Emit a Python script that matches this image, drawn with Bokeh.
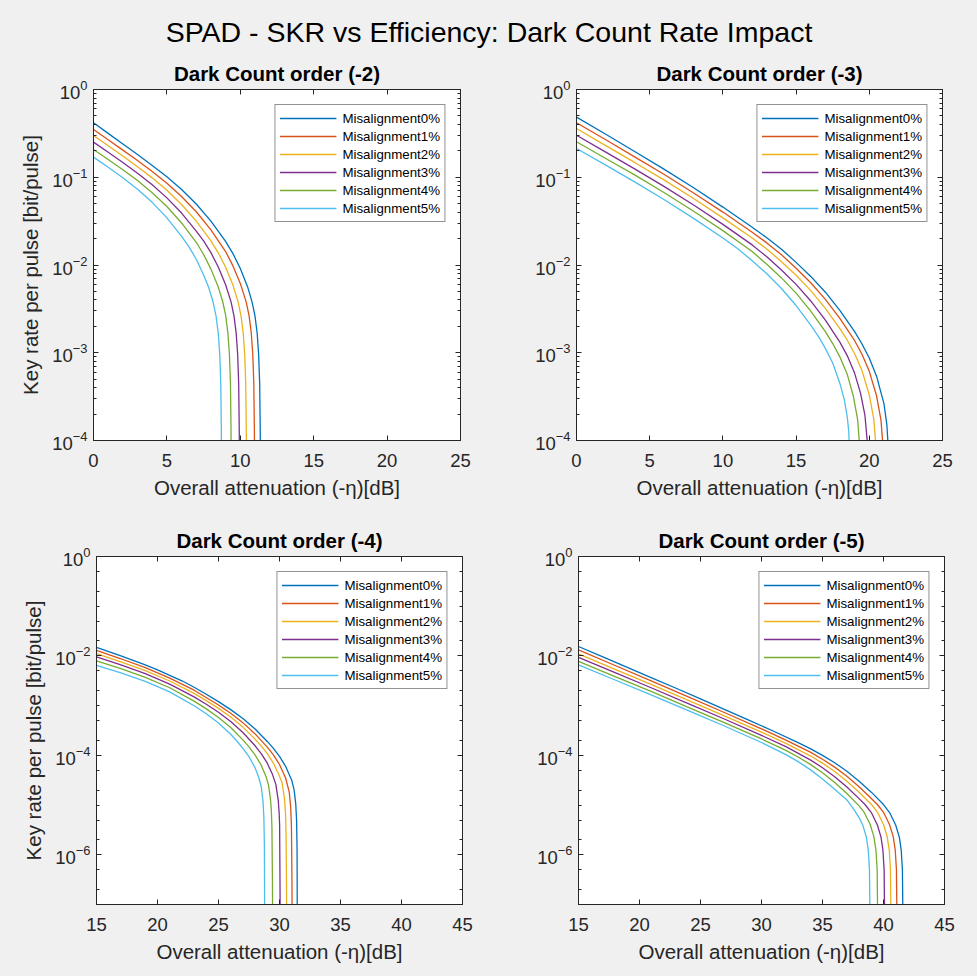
from bokeh.plotting import figure
from bokeh.models import (LinearAxis, LogAxis, FixedTicker, Legend, LegendItem, Label,
                          Range1d, CustomJSTickFormatter)
from bokeh.layouts import column, row
from bokeh.embed import file_html
from bokeh.resources import INLINE

# ---------------- texts / categories ----------------
SUPTITLE = "SPAD - SKR vs Efficiency: Dark Count Rate Impact"
PANEL_TITLES = ["Dark Count order (-2)", "Dark Count order (-3)",
                "Dark Count order (-4)", "Dark Count order (-5)"]
SERIES = ["Misalignment0%", "Misalignment1%", "Misalignment2%",
          "Misalignment3%", "Misalignment4%", "Misalignment5%"]
COLORS = ["#0072BD", "#D95319", "#EDB120", "#7E2F8E", "#77AC30", "#4DBEEE"]
X_LABEL = "Overall attenuation (-\u03b7)[dB]"
Y_LABEL = "Key rate per pulse [bit/pulse]"

TOP_X_TICKS = [0, 5, 10, 15, 20, 25]
BOTTOM_X_TICKS = [15, 20, 25, 30, 35, 40, 45]
TOP_Y_TICKS = [1e-4, 1e-3, 1e-2, 1e-1, 1e0]
BOTTOM_Y_TICKS = [1e-6, 1e-4, 1e-2, 1e0]

# ---------------- data: attenuation [dB] and log10(key rate per pulse) ----------------
# Dark count order (-2)
tl_x0 = [0, 1, 2, 3, 4, 5, 6, 7, 8, 9, 9.5, 10, 10.5, 10.8, 11, 11.15, 11.25, 11.32, 11.36, 11.37]
tl_e0 = [-0.38, -0.50, -0.62, -0.74, -0.865, -0.995, -1.14, -1.305, -1.5, -1.73, -1.87, -2.04, -2.25, -2.42, -2.58, -2.78, -3.02, -3.35, -3.9, -4.5]
tl_x1 = [0, 1, 2, 3, 4, 5, 6, 7, 8, 9, 9.5, 10, 10.4, 10.6, 10.75, 10.85, 10.92, 10.96, 10.97]
tl_e1 = [-0.456, -0.573, -0.691, -0.81, -0.935, -1.068, -1.219, -1.393, -1.6, -1.847, -2.01, -2.21, -2.42, -2.58, -2.78, -3.02, -3.35, -3.9, -4.5]
tl_x2 = [0, 1, 2, 3, 4, 5, 6, 7, 8, 8.5, 9, 9.5, 9.85, 10.05, 10.2, 10.3, 10.37, 10.41, 10.42]
tl_e2 = [-0.524, -0.641, -0.758, -0.88, -1.007, -1.149, -1.31, -1.5, -1.725, -1.861, -2.026, -2.229, -2.42, -2.58, -2.78, -3.02, -3.35, -3.9, -4.5]
tl_x3 = [0, 1, 2, 3, 4, 5, 6, 7, 7.5, 8, 8.5, 9, 9.37, 9.57, 9.72, 9.82, 9.89, 9.93, 9.94]
tl_e3 = [-0.60, -0.715, -0.832, -0.955, -1.086, -1.235, -1.408, -1.613, -1.726, -1.859, -2.023, -2.225, -2.42, -2.58, -2.78, -3.02, -3.35, -3.9, -4.5]
tl_x4 = [0, 1, 2, 3, 4, 5, 6, 7, 7.5, 8, 8.5, 8.8, 9.0, 9.15, 9.26, 9.33, 9.37, 9.38]
tl_e4 = [-0.684, -0.797, -0.915, -1.038, -1.176, -1.333, -1.521, -1.741, -1.88, -2.047, -2.252, -2.416, -2.57, -2.77, -3.02, -3.35, -3.9, -4.5]
tl_x5 = [0, 1, 2, 3, 4, 5, 6, 6.5, 7, 7.5, 7.85, 8.15, 8.35, 8.5, 8.6, 8.67, 8.71, 8.72]
tl_e5 = [-0.771, -0.886, -1.006, -1.137, -1.286, -1.463, -1.673, -1.791, -1.935, -2.113, -2.257, -2.425, -2.583, -2.78, -3.02, -3.35, -3.9, -4.5]

# Dark count order (-3)
tr_x0 = [0, 2, 4, 6, 8, 10, 12, 13, 14, 15, 16, 17, 18, 19, 19.5, 20, 20.5, 21, 21.2, 21.3, 21.34]
tr_e0 = [-0.315, -0.51, -0.71, -0.91, -1.12, -1.34, -1.57, -1.69, -1.82, -1.97, -2.13, -2.31, -2.52, -2.76, -2.9, -3.06, -3.27, -3.58, -3.82, -4.1, -4.6]
tr_x1 = [0, 2, 4, 6, 8, 10, 12, 13, 14, 15, 16, 17, 18, 19, 19.5, 20, 20.5, 20.8, 20.9, 20.96, 20.98]
tr_e1 = [-0.379, -0.573, -0.77, -0.969, -1.179, -1.397, -1.626, -1.748, -1.884, -2.037, -2.202, -2.392, -2.61, -2.863, -3.017, -3.212, -3.493, -3.77, -3.99, -4.3, -4.6]
tr_x2 = [0, 2, 4, 6, 8, 10, 12, 13, 14, 15, 16, 17, 18, 18.5, 19, 19.5, 20, 20.3, 20.4, 20.48, 20.5]
tr_e2 = [-0.445, -0.639, -0.834, -1.033, -1.242, -1.463, -1.692, -1.817, -1.962, -2.117, -2.292, -2.494, -2.728, -2.857, -3.012, -3.203, -3.481, -3.75, -3.94, -4.3, -4.6]
tr_x3 = [0, 2, 4, 6, 8, 10, 12, 13, 14, 15, 16, 17, 18, 18.5, 19, 19.4, 19.7, 19.85, 19.92, 19.94]
tr_e3 = [-0.521, -0.714, -0.907, -1.107, -1.317, -1.537, -1.771, -1.906, -2.057, -2.221, -2.41, -2.628, -2.882, -3.035, -3.235, -3.46, -3.71, -3.99, -4.4, -4.6]
tr_x4 = [0, 2, 4, 6, 8, 10, 12, 13, 14, 15, 16, 17, 17.5, 18, 18.5, 18.9, 19.2, 19.3, 19.37, 19.39]
tr_e4 = [-0.595, -0.786, -0.976, -1.177, -1.388, -1.608, -1.847, -1.992, -2.147, -2.321, -2.526, -2.759, -2.895, -3.05, -3.249, -3.487, -3.76, -3.97, -4.4, -4.6]
tr_x5 = [0, 2, 4, 6, 8, 10, 11, 12, 13, 14, 15, 16, 16.5, 17, 17.5, 18, 18.3, 18.5, 18.6, 18.7, 18.72]
tr_e5 = [-0.673, -0.862, -1.055, -1.257, -1.469, -1.693, -1.813, -1.951, -2.10, -2.268, -2.462, -2.685, -2.808, -2.95, -3.116, -3.354, -3.54, -3.74, -3.9, -4.4, -4.6]

# Dark count order (-4)
bl_x0 = [15, 16, 17, 18, 19, 20, 21, 22, 23, 24, 25, 26, 27, 28, 29, 29.5, 30, 30.5, 31, 31.2, 31.33, 31.4, 31.44, 31.46]
bl_e0 = [-1.83, -1.915, -2.0, -2.09, -2.18, -2.28, -2.39, -2.5, -2.63, -2.77, -2.92, -3.08, -3.26, -3.47, -3.72, -3.86, -4.02, -4.22, -4.5, -4.7, -4.97, -5.3, -5.9, -7.5]
bl_x1 = [15, 17, 19, 21, 23, 25, 26, 27, 28, 29, 29.5, 30, 30.5, 30.8, 30.92, 30.98, 31.02, 31.04]
bl_e1 = [-1.89, -2.057, -2.236, -2.446, -2.689, -2.986, -3.153, -3.342, -3.569, -3.834, -3.991, -4.184, -4.455, -4.74, -5.05, -5.45, -6.5, -7.5]
bl_x2 = [15, 17, 19, 21, 23, 24, 25, 26, 27, 28, 28.5, 29, 29.5, 29.9, 30.2, 30.4, 30.5, 30.54, 30.57, 30.59]
bl_e2 = [-1.955, -2.119, -2.296, -2.504, -2.754, -2.9, -3.055, -3.229, -3.432, -3.674, -3.81, -3.966, -4.157, -4.359, -4.54, -4.85, -5.2, -5.6, -6.5, -7.5]
bl_x3 = [15, 17, 19, 21, 23, 24, 25, 26, 27, 28, 28.5, 29, 29.4, 29.7, 29.9, 29.97, 30.01, 30.04, 30.06]
bl_e3 = [-2.02, -2.182, -2.357, -2.566, -2.824, -2.972, -3.134, -3.317, -3.541, -3.808, -3.965, -4.157, -4.368, -4.584, -4.91, -5.15, -5.4, -6.5, -7.5]
bl_x4 = [15, 17, 19, 21, 23, 24, 25, 26, 27, 27.5, 28, 28.5, 28.9, 29.1, 29.25, 29.33, 29.38, 29.42, 29.44]
bl_e4 = [-2.10, -2.257, -2.431, -2.64, -2.91, -3.065, -3.237, -3.44, -3.688, -3.829, -3.992, -4.197, -4.43, -4.6, -4.86, -5.1, -5.45, -6.5, -7.5]
bl_x5 = [15, 17, 19, 21, 23, 24, 25, 26, 26.5, 27, 27.5, 28, 28.3, 28.5, 28.65, 28.72, 28.76, 28.79]
bl_e5 = [-2.19, -2.343, -2.513, -2.724, -3.003, -3.163, -3.348, -3.576, -3.712, -3.858, -4.027, -4.252, -4.446, -4.627, -4.93, -5.25, -5.8, -7.5]

# Dark count order (-5)
br_x0 = [15, 17, 19, 21, 23, 25, 27, 29, 31, 33, 34, 35, 36, 37, 38, 39, 40, 40.5, 41, 41.3, 41.45, 41.55, 41.6]
br_e0 = [-1.81, -2.02, -2.23, -2.44, -2.65, -2.865, -3.08, -3.295, -3.515, -3.745, -3.865, -4.0, -4.15, -4.32, -4.52, -4.74, -4.99, -5.15, -5.4, -5.65, -5.9, -6.3, -7.5]
br_x1 = [15, 18, 21, 24, 27, 30, 32, 34, 35, 36, 37, 38, 39, 39.5, 40, 40.5, 40.8, 40.96, 41.06, 41.11]
br_e1 = [-1.88, -2.193, -2.506, -2.823, -3.143, -3.467, -3.693, -3.936, -4.078, -4.237, -4.421, -4.63, -4.867, -4.989, -5.145, -5.395, -5.64, -5.9, -6.3, -7.5]
br_x2 = [15, 18, 21, 24, 27, 30, 32, 34, 35, 36, 37, 38, 39, 39.5, 40, 40.3, 40.47, 40.57, 40.62]
br_e2 = [-1.96, -2.269, -2.579, -2.893, -3.21, -3.532, -3.759, -4.009, -4.157, -4.324, -4.523, -4.741, -4.983, -5.14, -5.39, -5.633, -5.9, -6.3, -7.5]
br_x3 = [15, 18, 21, 24, 27, 30, 32, 34, 35, 36, 37, 38, 38.5, 39, 39.5, 39.8, 39.95, 40.05, 40.1]
br_e3 = [-2.03, -2.337, -2.645, -2.959, -3.274, -3.598, -3.825, -4.09, -4.248, -4.43, -4.638, -4.87, -4.994, -5.15, -5.4, -5.65, -5.9, -6.3, -7.5]
br_x4 = [15, 18, 21, 24, 27, 30, 32, 33, 34, 35, 36, 37, 38, 38.4, 38.9, 39.2, 39.38, 39.48, 39.53]
br_e4 = [-2.11, -2.415, -2.72, -3.033, -3.345, -3.67, -3.90, -4.032, -4.181, -4.349, -4.547, -4.767, -5.017, -5.14, -5.385, -5.625, -5.9, -6.3, -7.5]
br_x5 = [15, 18, 21, 24, 27, 30, 32, 33, 34, 35, 36, 37, 37.5, 38, 38.3, 38.6, 38.75, 38.85, 38.9]
br_e5 = [-2.18, -2.484, -2.79, -3.102, -3.415, -3.742, -3.985, -4.126, -4.287, -4.474, -4.684, -4.897, -5.06, -5.252, -5.4, -5.65, -5.9, -6.3, -7.5]

# ---------------- styling constants ----------------
FONT = "Liberation Sans"
AX_COLOR = "#262626"
BG = "#f0f0f0"


def style_axis(ax, show_labels=True):
    ax.axis_line_color = AX_COLOR
    ax.axis_line_width = 1
    ax.major_tick_line_color = AX_COLOR
    ax.minor_tick_line_color = AX_COLOR
    ax.major_tick_in = 5
    ax.major_tick_out = 0
    ax.minor_tick_in = 3
    ax.minor_tick_out = 0
    ax.major_label_text_font = FONT
    ax.major_label_text_color = AX_COLOR
    ax.major_label_text_font_size = "18.5px"
    ax.axis_label_text_font = FONT
    ax.axis_label_text_font_style = "normal"
    ax.axis_label_text_color = AX_COLOR
    ax.axis_label_text_font_size = "20.5px"
    if not show_labels:
        ax.formatter = CustomJSTickFormatter(code="return ''")
        ax.major_label_standoff = 0


def make_panel(title, xs, es, xr, yr, xticks, yticks, yminor,
               width, height, bl, br, bt, bb, show_ylabel):
    p = figure(width=width, height=height,
               x_range=Range1d(*xr), y_range=Range1d(*yr),
               y_axis_type="log", output_backend="svg", toolbar_location=None,
               min_border_left=bl, min_border_right=br,
               min_border_top=bt, min_border_bottom=bb,
               background_fill_color="white", border_fill_color=BG,
               outline_line_color=AX_COLOR)
    p.xgrid.visible = False
    p.ygrid.visible = False

    items = []
    for x, e, lab, col in zip(xs, es, SERIES, COLORS):
        y = [10.0 ** v for v in e]
        r = p.line(x, y, line_color=col, line_width=1.3)
        items.append(LegendItem(label=lab, renderers=[r]))

    xa = p.below[0]
    ya = p.left[0]
    xa.ticker = FixedTicker(ticks=xticks)
    ya.ticker = FixedTicker(ticks=yticks, minor_ticks=yminor)
    style_axis(xa)
    style_axis(ya)
    xa.major_label_standoff = 13
    ya.major_label_standoff = 6
    xa.axis_label = X_LABEL
    xa.axis_label_standoff = 6
    if show_ylabel:
        ya.axis_label = Y_LABEL
        ya.axis_label_standoff = 7

    ra = LogAxis(ticker=FixedTicker(ticks=yticks, minor_ticks=yminor))
    style_axis(ra, show_labels=False)
    p.add_layout(ra, "right")
    ta = LinearAxis(ticker=FixedTicker(ticks=xticks))
    style_axis(ta, show_labels=False)
    p.add_layout(ta, "above")

    p.title.text = title
    p.title.align = "center"
    p.title.text_font = FONT
    p.title.text_font_size = "20.5px"
    p.title.text_font_style = "bold"
    p.title.text_color = "black"
    p.title.standoff = 9

    leg = Legend(items=items, location="top_right", margin=15, padding=4,
                 spacing=0, glyph_width=57, glyph_height=18, label_height=18,
                 label_standoff=6, label_text_font=FONT,
                 label_text_font_size="13.3px", label_text_color="black",
                 border_line_color=AX_COLOR, border_line_width=1,
                 background_fill_color="white", background_fill_alpha=1.0)
    p.add_layout(leg)
    return p


top_minor = [k * 10.0 ** d for d in range(-4, 0) for k in range(2, 10)]
bottom_minor = [10.0 ** d for d in (-7, -5, -3, -1)] + \
               [k * 10.0 ** d for d in range(-7, 0) for k in (2, 5)]

p1 = make_panel(PANEL_TITLES[0], [tl_x0, tl_x1, tl_x2, tl_x3, tl_x4, tl_x5],
                [tl_e0, tl_e1, tl_e2, tl_e3, tl_e4, tl_e5],
                (0, 25), (1e-4, 1), TOP_X_TICKS, TOP_Y_TICKS, top_minor,
                480, 460, 93, 20, 39, 70, True)
p2 = make_panel(PANEL_TITLES[1], [tr_x0, tr_x1, tr_x2, tr_x3, tr_x4, tr_x5],
                [tr_e0, tr_e1, tr_e2, tr_e3, tr_e4, tr_e5],
                (0, 25), (1e-4, 1), TOP_X_TICKS, TOP_Y_TICKS, top_minor,
                497, 460, 96, 35, 39, 70, False)
p3 = make_panel(PANEL_TITLES[2], [bl_x0, bl_x1, bl_x2, bl_x3, bl_x4, bl_x5],
                [bl_e0, bl_e1, bl_e2, bl_e3, bl_e4, bl_e5],
                (15, 45), (1e-7, 1), BOTTOM_X_TICKS, BOTTOM_Y_TICKS, bottom_minor,
                480, 466, 96, 18, 46, 72, True)
p4 = make_panel(PANEL_TITLES[3], [br_x0, br_x1, br_x2, br_x3, br_x4, br_x5],
                [br_e0, br_e1, br_e2, br_e3, br_e4, br_e5],
                (15, 45), (1e-7, 1), BOTTOM_X_TICKS, BOTTOM_Y_TICKS, bottom_minor,
                497, 466, 98, 33, 46, 72, False)

tfig = figure(width=977, height=50, output_backend="svg", toolbar_location=None,
              min_border=0, x_axis_location=None, y_axis_location=None,
              outline_line_color=None, background_fill_color=BG,
              border_fill_color=BG, x_range=Range1d(0, 1), y_range=Range1d(0, 1))
tfig.grid.visible = False
tfig.add_layout(Label(x=488.5, y=19, x_units="screen", y_units="screen",
                      text=SUPTITLE, text_align="center", text_baseline="middle",
                      text_font=FONT, text_font_size="28.5px", text_color="black"))

bg_style = {"background-color": BG}
layout = column(tfig,
                row(p1, p2, styles=bg_style),
                row(p3, p4, styles=bg_style),
                styles=bg_style)

open("out.html", "w").write(file_html(layout, INLINE))
